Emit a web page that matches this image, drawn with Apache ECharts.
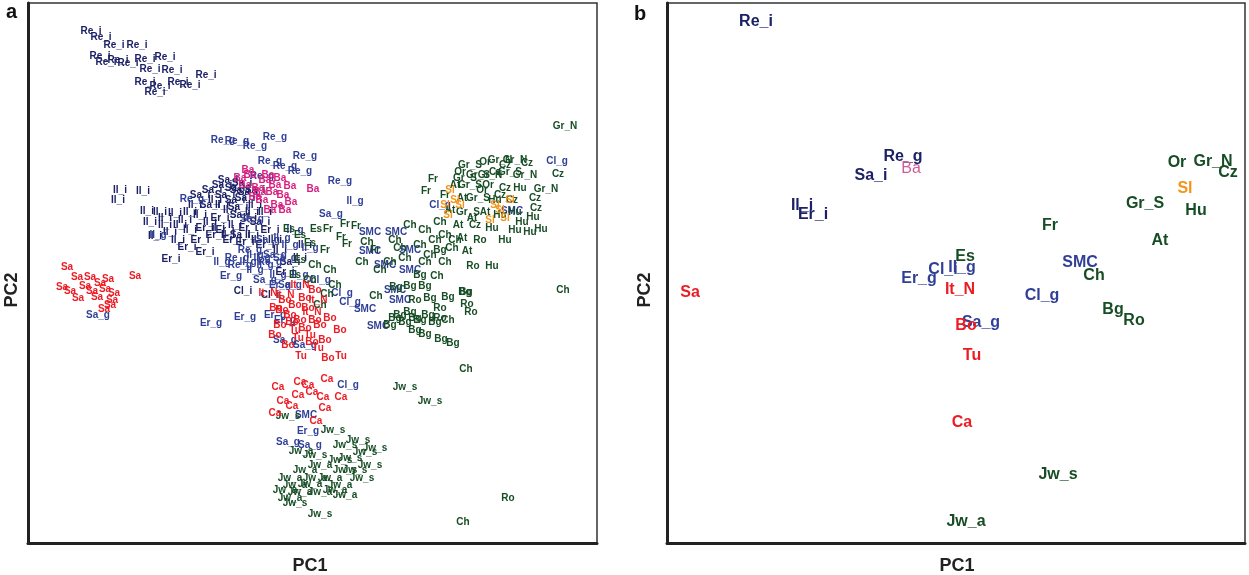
<!DOCTYPE html>
<html>
<head>
<meta charset="utf-8">
<script src="https://cdn.jsdelivr.net/npm/echarts@6/dist/echarts.min.js"></script>
<style>
  html, body { margin: 0; padding: 0; background: #fff; }
  #chart { width: 1249px; height: 575px; }
</style>
</head>
<body>
<div id="chart"></div>
<script>
// panel a: individual samples, [PC1, PC2, label]
const navyA = [
  [-20.9, 24.9, 'Re_i'], [-19.9, 24.3, 'Re_i'], [-18.6, 23.5, 'Re_i'], [-16.3, 23.5, 'Re_i'],
  [-20.0, 22.4, 'Re_i'], [-19.4, 21.8, 'Re_i'], [-18.2, 22.0, 'Re_i'], [-17.2, 21.7, 'Re_i'],
  [-15.5, 22.1, 'Re_i'], [-13.5, 22.3, 'Re_i'], [-15.0, 21.1, 'Re_i'], [-12.8, 21.0, 'Re_i'],
  [-9.4, 20.5, 'Re_i'], [-15.5, 19.8, 'Re_i'], [-14.0, 19.4, 'Re_i'], [-12.2, 19.8, 'Re_i'],
  [-11.0, 19.5, 'Re_i'], [-14.5, 18.8, 'Re_i'],
  [-7.8, 9.5, 'Sa_i'], [-6.0, 9.0, 'Sa_i'], [-9.0, 7.5, 'Sa_i'],
  [-18.0, 9.0, 'Il_i'], [-15.7, 8.9, 'Il_i'], [-18.2, 8.0, 'Il_i'], [-15.3, 6.9, 'Il_i'],
  [-14.0, 6.8, 'Il_i'], [-12.5, 6.7, 'Il_i'], [-15.0, 5.8, 'Il_i'], [-13.5, 5.5, 'Il_i'],
  [-11.5, 6.0, 'Il_i'], [-14.5, 4.4, 'Il_i'], [-13.0, 4.8, 'Il_i'], [-11.0, 5.0, 'Il_i'],
  [-12.2, 4.0, 'Il_i'], [-10.0, 6.5, 'Il_i'], [-9.0, 5.8, 'Il_i'], [-10.5, 7.5, 'Il_i'],
  [-12.9, 2.1, 'Er_i'], [-11.3, 3.3, 'Er_i'], [-10.0, 4.0, 'Er_i'], [-8.5, 4.5, 'Er_i'],
  [-7.5, 5.0, 'Er_i'], [-9.5, 2.8, 'Er_i'],
  [-7.5, 8.5, 'Sa_i'], [-6.5, 8.0, 'Sa_i'], [-5.5, 8.2, 'Sa_i'], [-4.5, 7.5, 'Il_i'],
  [-7.0, 7.0, 'Il_i'], [-6.0, 6.5, 'Sa_i'], [-5.0, 6.2, 'Il_i'], [-8.0, 6.2, 'Er_i'],
  [-4.0, 5.8, 'Sa_i'], [-6.5, 5.5, 'Il_i'], [-5.2, 5.2, 'Er_i'], [-8.5, 8.0, 'Il_i'],
  [-7.2, 10.0, 'Sa_i'], [-5.8, 9.7, 'Sa_i'], [-4.5, 9.0, 'Sa_i'], [-3.5, 6.8, 'Il_i'],
  [-3.0, 5.0, 'Er_i'], [-4.2, 4.0, 'Il_i'], [-5.5, 3.8, 'Er_i'], [-6.8, 4.0, 'Er_i'],
  [-5.7, -1.1, 'Cl_i'], [-3.0, -1.5, 'Cl_i'],
  [-2.0, 3.0, 'Il_i'], [-1.0, 1.8, 'Sa_i'], [0.0, 2.2, 'Il_i'], [-1.5, 0.8, 'Er_i'], [0.5, 3.5, 'Il_i'],
  [-10.0, 8.5, 'Sa_i'], [-8.8, 9.0, 'Sa_i'], [-6.5, 9.2, 'Sa_i'], [-5.2, 8.8, 'Sa_i'],
  [-7.8, 7.5, 'Il_i'], [-6.2, 7.3, 'Sa_i'], [-4.8, 6.8, 'Il_i'], [-9.5, 5.2, 'Er_i'],
  [-8.2, 5.2, 'Il_i'], [-7.2, 4.5, 'Il_i'], [-6.0, 4.5, 'Sa_i'], [-4.8, 4.5, 'Il_i'],
  [-3.5, 3.5, 'Er_i'], [-2.5, 4.0, 'Il_i'], [-11.0, 6.8, 'Il_i'], [-12.0, 5.5, 'Il_i'],
  [-13.5, 6.2, 'Il_i']
];
const blueA = [
  [-7.7, 14.0, 'Re_g'], [-6.3, 13.9, 'Re_g'], [-4.5, 13.4, 'Re_g'], [-2.5, 14.3, 'Re_g'],
  [0.5, 12.4, 'Re_g'], [-3.0, 11.9, 'Re_g'], [-1.5, 11.4, 'Re_g'], [0.0, 10.9, 'Re_g'],
  [4.0, 9.9, 'Re_g'], [-3.8, 10.4, 'Re_g'], [-6.3, 2.2, 'Re_g'], [-10.8, 8.1, 'Re_g'],
  [5.5, 7.9, 'Il_g'], [-14.2, 4.5, 'Il_g'], [-1.0, 3.5, 'Il_g'], [1.0, 3.2, 'Il_g'],
  [-0.5, 5.0, 'Il_g'], [-3.5, 1.5, 'Il_g'],
  [3.1, 6.6, 'Sa_g'], [-4.8, 6.1, 'Sa_g'], [-20.2, -3.5, 'Sa_g'], [-1.2, -16.2, 'Sa_g'],
  [1.0, -16.5, 'Sa_g'], [0.5, -6.5, 'Sa_g'], [-1.5, -6.0, 'Sa_g'],
  [-6.9, 0.4, 'Er_g'], [-5.5, -3.7, 'Er_g'], [-8.9, -4.3, 'Er_g'], [0.8, -15.1, 'Er_g'],
  [-2.5, -3.5, 'Er_g'], [-1.5, -4.0, 'Er_g'],
  [25.7, 11.9, 'Cl_g'], [4.2, -1.3, 'Cl_g'], [5.0, -2.2, 'Cl_g'], [4.8, -10.5, 'Cl_g'], [2.0, 0.0, 'Cl_g'],
  [14.0, 7.5, 'Cl_g'],
  [6.5, -2.9, 'SMC'], [7.8, -4.6, 'SMC'], [7.0, 4.8, 'SMC'], [9.6, 4.8, 'SMC'], [11.0, 3.0, 'SMC'],
  [7.0, 2.9, 'SMC'], [0.6, -13.5, 'SMC'], [9.5, -1.0, 'SMC'], [11.0, 1.0, 'SMC'], [8.5, 1.5, 'SMC'],
  [10.0, -2.0, 'SMC'], [21.2, 6.9, 'SMC'],
  [-5.0, 3.0, 'Re_g'], [-3.8, 2.2, 'Il_g'], [-2.5, 2.5, 'Sa_g'], [-4.5, 1.0, 'Il_g'],
  [-6.0, 1.5, 'Re_g'], [-7.8, 1.8, 'Il_g'], [-3.5, 0.0, 'Sa_g'], [-2.0, -0.5, 'Er_g'],
  [-3.2, 4.0, 'Sa_g'], [-1.8, 4.2, 'Il_g'],
  [-4.5, 2.5, 'Il_g'], [-3.0, 1.8, 'Re_g'], [-1.5, 2.2, 'Sa_g'], [-5.2, 1.8, 'Il_g'],
  [-2.2, 0.5, 'Il_g'], [-1.0, -0.5, 'Sa_g'], [0.0, 0.5, 'Il_g']
];
const greenA = [
  [26.5, 15.4, 'Gr_N'], [25.8, 10.6, 'Cz'], [24.6, 9.1, 'Gr_N'], [23.5, 8.2, 'Cz'],
  [23.6, 7.2, 'Cz'], [23.3, 6.3, 'Hu'], [22.2, 5.8, 'Hu'], [24.1, 5.1, 'Hu'],
  [13.3, 10.1, 'Fr'], [12.6, 8.9, 'Fr'], [16.7, 2.9, 'At'], [17.3, 1.4, 'Ro'],
  [19.2, 1.4, 'Hu'], [26.3, -1.0, 'Ch'], [13.7, 0.4, 'Ch'], [16.5, -1.2, 'Bg'],
  [17.0, 11.5, 'Gr_S'], [18.5, 11.8, 'Or'], [20.0, 12.0, 'Gr_N'], [21.5, 12.0, 'Gr_N'],
  [22.7, 11.7, 'Cz'], [16.0, 10.8, 'Or'], [17.8, 10.5, 'Gr_S'], [19.5, 10.8, 'Cz'],
  [21.0, 10.8, 'Gr_S'], [22.5, 10.5, 'Gr_N'], [15.5, 9.5, 'At'], [17.0, 9.5, 'Gr_S'],
  [18.8, 9.5, 'Or'], [20.5, 9.2, 'Cz'], [22.0, 9.2, 'Hu'], [14.5, 8.5, 'Fr'],
  [16.2, 8.2, 'At'], [17.8, 8.2, 'Gr_S'], [19.5, 8.0, 'Hu'], [21.2, 8.0, 'Cz'],
  [15.0, 7.0, 'At'], [16.8, 6.8, 'Gr_S'], [18.5, 6.8, 'At'], [20.0, 6.5, 'Hu'],
  [14.0, 5.8, 'Ch'], [15.8, 5.5, 'At'], [17.5, 5.5, 'Cz'], [19.2, 5.2, 'Hu'],
  [12.5, 5.0, 'Ch'], [14.5, 4.5, 'Ch'], [16.2, 4.2, 'At'], [18.0, 4.0, 'Ro'],
  [11.0, 5.5, 'Ch'], [9.5, 4.0, 'Ch'], [12.0, 3.5, 'Ch'], [14.0, 3.0, 'Bg'],
  [15.2, 3.2, 'Ch'], [20.5, 4.0, 'Hu'], [21.5, 5.0, 'Hu'], [23.0, 4.8, 'Hu'],
  [9.0, 1.8, 'Ch'], [10.5, 2.2, 'Ch'], [12.5, 1.8, 'Ch'], [14.5, 1.8, 'Ch'],
  [12.0, 0.5, 'Bg'], [8.0, 1.0, 'Ch'], [7.5, 3.0, 'Fr'], [6.2, 1.8, 'Ch'],
  [16.5, 10.2, 'Gr_S'], [18.2, 9.0, 'Or'], [20.0, 8.5, 'Cz'], [21.5, 6.8, 'Hu'],
  [17.2, 6.2, 'At'], [15.5, 4.0, 'Ch'], [13.0, 2.5, 'Ch'], [10.0, 3.2, 'Ch'],
  [13.5, 4.0, 'Ch'], [19.0, 10.5, 'Gr_N'], [20.5, 11.5, 'Cz'],
  [-1.1, 5.1, 'Es'], [1.6, 5.1, 'Es'], [2.8, 5.1, 'Fr'], [4.5, 5.6, 'Fr'],
  [5.6, 5.4, 'Fr'], [4.1, 4.3, 'Fr'], [4.7, 3.6, 'Fr'], [6.7, 3.8, 'Ch'],
  [0.0, 4.5, 'Es'], [1.0, 3.7, 'Es'],
  [0.0, 2.0, 'Es'], [1.5, 1.5, 'Ch'], [2.5, 3.0, 'Fr'], [3.0, 1.0, 'Ch'],
  [-0.5, 0.5, 'Es'], [1.0, 0.0, 'Ch'], [2.7, -1.4, 'Ch'], [7.6, -1.6, 'Ch'],
  [3.5, -0.5, 'Ch'], [2.0, -2.5, 'Ch'],
  [9.6, -0.7, 'Bg'], [11.0, -0.6, 'Bg'], [12.5, -0.6, 'Bg'], [14.8, -1.7, 'Bg'],
  [16.6, -1.2, 'Bg'], [16.7, -2.4, 'Ro'], [17.1, -3.2, 'Ro'], [14.0, -2.8, 'Ro'],
  [11.0, -3.2, 'Bg'], [12.5, -5.4, 'Bg'], [14.1, -5.9, 'Bg'], [15.3, -6.3, 'Bg'],
  [16.6, -8.9, 'Ch'], [9.5, -3.8, 'Bg'], [10.5, -4.2, 'Bg'], [12.0, -4.0, 'Bg'],
  [13.5, -4.2, 'Bg'], [14.8, -4.0, 'Ch'], [11.5, -2.0, 'Ro'], [13.0, -1.8, 'Bg'],
  [9.0, -4.5, 'Bg'], [11.5, -5.0, 'Bg'],
  [10.0, -3.5, 'Bg'], [12.8, -3.5, 'Bg'], [11.5, -3.8, 'Bg'], [14.0, -3.8, 'Ro'],
  [10.5, -10.7, 'Jw_s'], [13.0, -12.1, 'Jw_s'], [3.3, -15.0, 'Jw_s'], [-1.2, -13.6, 'Jw_s'],
  [0.1, -17.1, 'Jw_a'], [4.5, -16.5, 'Jw_s'], [5.8, -16.0, 'Jw_s'], [6.5, -17.2, 'Jw_s'],
  [5.0, -17.8, 'Jw_s'], [7.0, -18.5, 'Jw_s'], [4.5, -19.0, 'Jw_s'], [6.2, -19.8, 'Jw_s'],
  [2.0, -18.5, 'Jw_a'], [0.5, -19.0, 'Jw_a'], [-1.0, -19.8, 'Jw_a'], [3.0, -19.8, 'Jw_a'],
  [1.0, -20.4, 'Jw_a'], [-1.5, -21.0, 'Jw_a'], [0.0, -21.2, 'Jw_a'], [2.0, -21.2, 'Jw_a'],
  [4.5, -21.5, 'Jw_a'], [-0.5, -22.3, 'Jw_s'], [2.0, -23.4, 'Jw_s'], [4.0, -20.5, 'Jw_a'],
  [7.5, -16.8, 'Jw_s'], [1.5, -17.5, 'Jw_s'],
  [4.0, -18.0, 'Jw_s'], [5.5, -19.0, 'Jw_s'], [-0.5, -20.5, 'Jw_a'], [1.5, -19.8, 'Jw_a'],
  [-1.0, -21.8, 'Jw_a'], [3.5, -21.0, 'Jw_a'],
  [20.8, -21.8, 'Ro'], [16.3, -24.2, 'Ch']
];
const pinkA = [
  [1.3, 9.1, 'Ba'], [-0.9, 7.8, 'Ba'], [-1.0, 9.4, 'Ba'], [-2.0, 10.2, 'Ba'],
  [-3.5, 10.0, 'Ba'], [-5.0, 10.5, 'Ba'], [-5.5, 9.5, 'Ba'], [-4.2, 9.2, 'Ba'],
  [-2.8, 8.8, 'Ba'], [-3.8, 8.0, 'Ba'], [-2.3, 7.5, 'Ba'], [-3.2, 10.5, 'Ba'],
  [-1.7, 8.5, 'Ba'], [-4.5, 8.3, 'Ba'], [-6.0, 10.2, 'Ba'], [-3.0, 7.0, 'Ba'],
  [-5.2, 11.0, 'Ba'], [-2.5, 9.5, 'Ba'], [-4.0, 8.8, 'Ba'], [-1.5, 7.0, 'Ba']
];
const redA = [
  [-23.3, 1.3, 'Sa'], [-16.5, 0.4, 'Sa'], [-22.3, 0.3, 'Sa'], [-21.0, 0.3, 'Sa'],
  [-19.2, 0.1, 'Sa'], [-23.8, -0.7, 'Sa'], [-20.8, -1.1, 'Sa'], [-19.5, -0.9, 'Sa'],
  [-18.6, -1.3, 'Sa'], [-22.2, -1.8, 'Sa'], [-20.3, -1.7, 'Sa'], [-18.8, -2.0, 'Sa'],
  [-19.6, -2.9, 'Sa'], [-19.0, -2.5, 'Sa'], [-21.5, -0.6, 'Sa'], [-20.0, -0.3, 'Sa'],
  [-23.0, -1.1, 'Sa'],
  [-2.4, -2.8, 'Bo'], [2.8, -7.8, 'Bo'], [0.1, -7.6, 'Tu'], [4.1, -7.6, 'Tu'],
  [-3.2, -1.3, 'It_N'], [-1.5, -2.0, 'Bo'], [-0.5, -2.5, 'Bo'], [0.5, -1.8, 'Bo'],
  [-1.0, -3.5, 'Bo'], [0.0, -4.0, 'Bo'], [1.2, -3.2, 'It_N'], [2.0, -4.5, 'Bo'],
  [-2.0, -4.5, 'Bo'], [-0.5, -5.0, 'Tu'], [1.0, -5.5, 'Tu'], [2.5, -6.0, 'Bo'],
  [4.0, -5.0, 'Bo'], [-1.2, -6.5, 'Bo'], [1.8, -6.8, 'Tu'], [0.0, -0.5, 'It_N'],
  [1.5, -1.0, 'Bo'], [-2.5, -5.5, 'Bo'],
  [-1.8, -3.0, 'Bo'], [0.8, -2.8, 'Bo'], [1.8, -2.0, 'It_N'], [-0.8, -4.2, 'Bo'],
  [0.5, -4.8, 'Bo'], [1.5, -4.0, 'Bo'], [3.0, -3.8, 'Bo'], [-0.2, -5.8, 'Tu'],
  [1.2, -6.2, 'Bo'], [-1.5, -1.5, 'It_N'],
  [-2.2, -10.7, 'Ca'], [0.0, -10.2, 'Ca'], [2.7, -9.9, 'Ca'], [0.8, -10.5, 'Ca'],
  [4.1, -11.7, 'Ca'], [2.3, -11.7, 'Ca'], [-1.7, -12.1, 'Ca'], [-0.8, -12.6, 'Ca'],
  [-2.5, -13.3, 'Ca'], [1.6, -14.1, 'Ca'], [1.2, -11.2, 'Ca'], [-0.2, -11.5, 'Ca'],
  [2.5, -12.8, 'Ca']
];
const orangeA = [
  [15.0, 9.0, 'Sl'], [15.5, 8.0, 'Sl'], [16.0, 7.5, 'Sl'], [14.5, 7.5, 'Sl'],
  [19.5, 7.5, 'Sl'], [20.0, 7.0, 'Sl'], [20.5, 6.2, 'Sl'], [19.0, 6.0, 'Sl'],
  [21.0, 8.0, 'Sl'], [14.8, 6.5, 'Sl']
];

// panel b: population means
const navyB = [
  [-20.0, 25.8, 'Re_i'], [-5.3, 12.3, 'Re_g'], [-8.5, 10.4, 'Sa_i'],
  [-15.4, 7.4, 'Il_i'], [-14.3, 6.5, 'Er_i']
];
const blueB = [
  [-3.7, 0.1, 'Er_g'], [-1.3, 1.0, 'Cl_i'], [0.6, 1.2, 'Il_g'], [2.5, -4.3, 'Sa_g'],
  [12.4, 1.7, 'SMC'], [8.6, -1.6, 'Cl_g']
];
const greenB = [
  [0.9, 2.3, 'Es'], [9.4, 5.4, 'Fr'], [13.8, 0.4, 'Ch'], [15.7, -3.0, 'Bg'],
  [17.8, -4.1, 'Ro'], [20.4, 3.9, 'At'], [18.9, 7.6, 'Gr_S'], [24.0, 6.9, 'Hu'],
  [22.1, 11.7, 'Or'], [25.7, 11.8, 'Gr_N'], [27.2, 10.7, 'Cz'],
  [10.2, -19.5, 'Jw_s'], [1.0, -24.2, 'Jw_a']
];
const redB = [
  [-26.6, -1.3, 'Sa'], [0.4, -1.0, 'It_N'], [1.0, -4.6, 'Bo'], [1.6, -7.6, 'Tu'], [0.6, -14.3, 'Ca']
];
const pinkB = [[-4.5, 11.1, 'Ba']];
const orangeB = [[22.9, 9.1, 'Sl']];

const NAVY = '#1c2166';
const BLUE = '#303f96';
const GREEN = '#174d24';
const RED = '#ec1c24';
const PINK_A = '#d81f80';
const PINK_B = '#d05d9a';
const ORANGE = '#f39419';

function labels(data, color, idx, size, weight) {
  return {
    type: 'scatter',
    xAxisIndex: idx,
    yAxisIndex: idx,
    data: data,
    symbolSize: 1,
    silent: true,
    itemStyle: { color: 'rgba(0,0,0,0)', opacity: 1 },
    label: {
      show: true,
      position: 'inside',
      formatter: (p) => p.value[2],
      color: color,
      opacity: 1,
      fontSize: size,
      fontWeight: weight,
      fontFamily: 'Liberation Sans'
    },
    emphasis: { disabled: true }
  };
}

function axis(idx, min, max) {
  return {
    gridIndex: idx,
    type: 'value',
    min: min,
    max: max,
    axisLine: { show: true, onZero: false, lineStyle: { color: '#222', width: 3 } },
    axisTick: { show: false },
    axisLabel: { show: false },
    splitLine: { show: false }
  };
}

const chart = echarts.init(document.getElementById('chart'));
chart.setOption({
  animation: false,
  backgroundColor: '#fff',
  grid: [
    { left: 28, top: 3, width: 569, height: 540, show: true, borderColor: '#333', borderWidth: 1.5 },
    { left: 667, top: 3, width: 578, height: 540, show: true, borderColor: '#333', borderWidth: 1.5 }
  ],
  xAxis: [axis(0, -27.2, 29.7), axis(1, -28.9, 28.9)],
  yAxis: [axis(0, -26.3, 27.7), axis(1, -26.3, 27.7)],
  graphic: [
    { type: 'text', left: 6, top: 2, style: { text: 'a', font: 'bold 20px Liberation Sans', fill: '#111' } },
    { type: 'text', left: 634, top: 4, style: { text: 'b', font: 'bold 20px Liberation Sans', fill: '#111' } },
    { type: 'text', x: 310, y: 566, style: { text: 'PC1', font: 'bold 18px Liberation Sans', fill: '#222', align: 'center', verticalAlign: 'middle' } },
    { type: 'text', x: 957, y: 566, style: { text: 'PC1', font: 'bold 18px Liberation Sans', fill: '#222', align: 'center', verticalAlign: 'middle' } },
    { type: 'text', x: 12, y: 290, rotation: Math.PI / 2, style: { text: 'PC2', font: 'bold 18px Liberation Sans', fill: '#222', align: 'center', verticalAlign: 'middle' } },
    { type: 'text', x: 645, y: 290, rotation: Math.PI / 2, style: { text: 'PC2', font: 'bold 18px Liberation Sans', fill: '#222', align: 'center', verticalAlign: 'middle' } }
  ],
  series: [
    labels(navyA, NAVY, 0, 10, 'bold'),
    labels(blueA, BLUE, 0, 10, 'bold'),
    labels(greenA, GREEN, 0, 10, 'bold'),
    labels(pinkA, PINK_A, 0, 10, 'bold'),
    labels(redA, RED, 0, 10, 'bold'),
    labels(orangeA, ORANGE, 0, 10, 'bold'),
    labels(navyB, NAVY, 1, 16, 'bold'),
    labels(blueB, BLUE, 1, 16, 'bold'),
    labels(greenB, GREEN, 1, 16, 'bold'),
    labels(redB, RED, 1, 16, 'bold'),
    labels(pinkB, PINK_B, 1, 16, 'normal'),
    labels(orangeB, ORANGE, 1, 16, 'bold')
  ]
});
</script>
</body>
</html>
